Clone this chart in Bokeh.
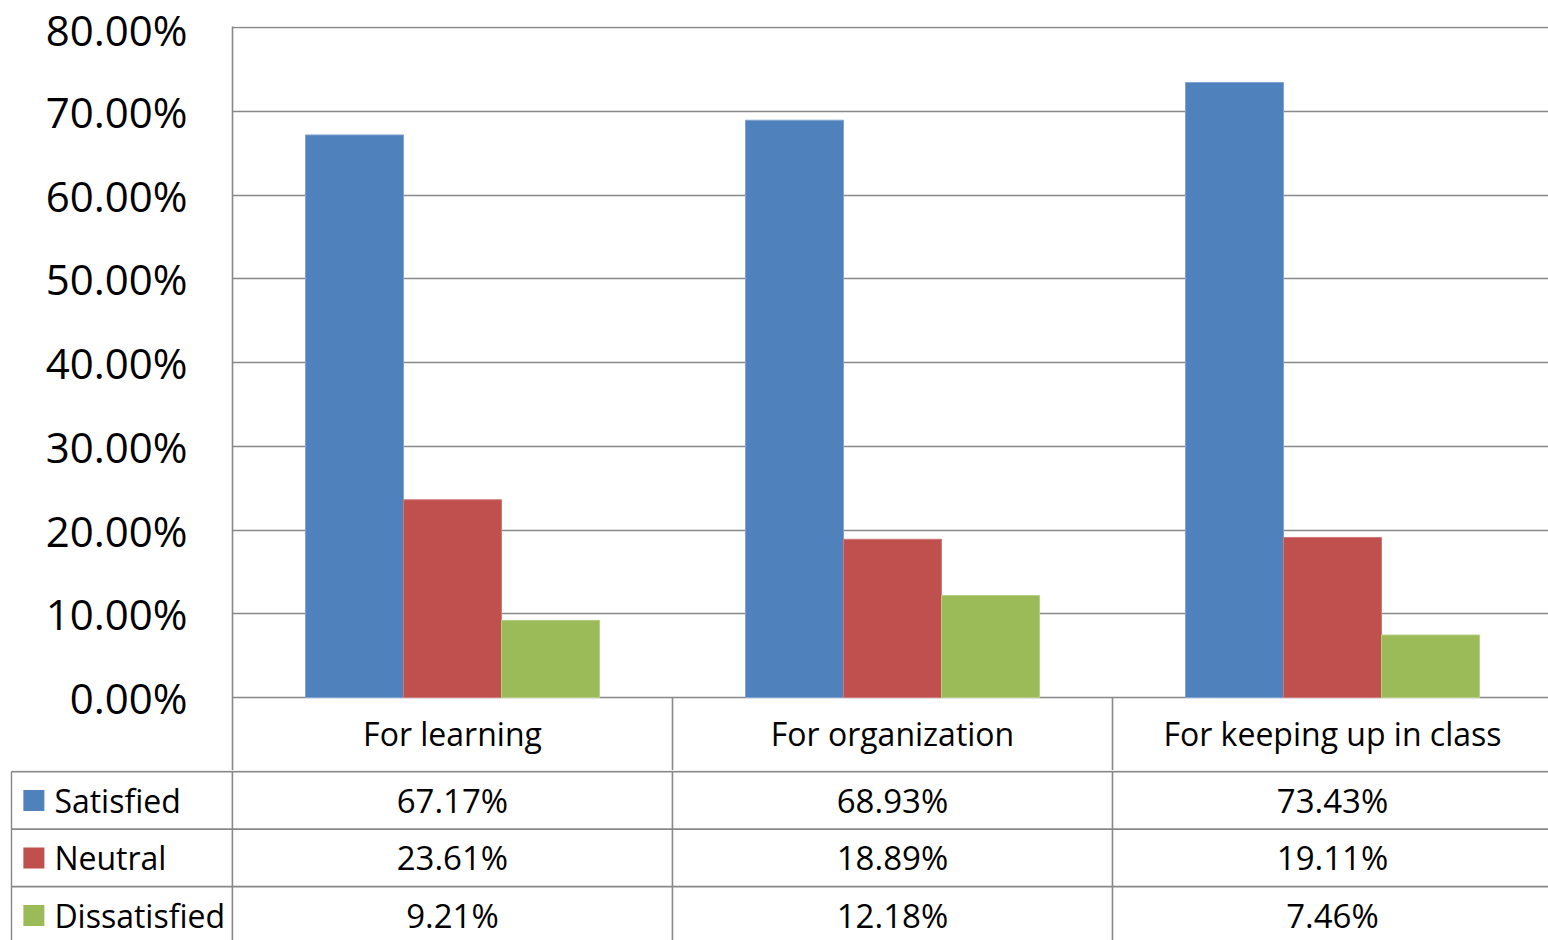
from bokeh.plotting import figure
from bokeh.models import Range1d, FixedTicker, PrintfTickFormatter, ColumnDataSource
from bokeh.layouts import column
from bokeh.embed import file_html
from bokeh.resources import INLINE
from bokeh.core.properties import value

# ---- data ----
categories = ["For learning", "For organization", "For keeping up in class"]
series = ["Satisfied", "Neutral", "Dissatisfied"]
satisfied = [67.17, 68.93, 73.43]
neutral = [23.61, 18.89, 19.11]
dissatisfied = [9.21, 12.18, 7.46]
y_ticks = [0, 10, 20, 30, 40, 50, 60, 70, 80]

colors = ["#4F81BD", "#C0504D", "#9BBB59"]
edge_colors = ["#7FA3D3", "#D07A78", "#B6CF85"]
GRID = "#888888"
FONT = "Open Sans"

values = [satisfied, neutral, dissatisfied]
n_cat = len(categories)

# ---- upper chart ----
PX_PER_CAT = 440.0
frame_w = 1316
x_end = frame_w / PX_PER_CAT
PX_PER_PCT = 670 / 80.0
up_frame_h = 770 - 26
y_top = 80 + 1 / PX_PER_PCT
y_bot = y_top - up_frame_h / PX_PER_PCT

p = figure(width=1548, height=770, output_backend="svg", toolbar_location=None,
           x_range=Range1d(0, x_end), y_range=Range1d(y_bot, y_top),
           x_axis_location=None, min_border_left=232, min_border_right=0,
           min_border_top=26, min_border_bottom=0)
p.frame_align = False
p.outline_line_color = None
p.xgrid.visible = False
p.yaxis.ticker = FixedTicker(ticks=y_ticks)
p.yaxis.formatter = PrintfTickFormatter(format="%.2f%%")
p.yaxis.major_tick_line_color = None
p.yaxis.minor_tick_line_color = None
p.yaxis.major_tick_out = 0
p.yaxis.major_tick_in = 0
p.yaxis.major_label_standoff = 45
p.yaxis.major_label_text_font = FONT
p.yaxis.major_label_text_font_size = "42px"
p.yaxis.major_label_text_color = "black"
p.yaxis.axis_line_color = GRID
p.yaxis.axis_line_width = 1.6
p.ygrid.grid_line_color = GRID
p.ygrid.grid_line_width = 1.6

bw = 98 / PX_PER_CAT
offsets = [-bw, 0, bw]
for s, vals, c, ec, off in zip(series, values, colors, edge_colors, offsets):
    src = ColumnDataSource(dict(x=[i + 0.5 + off for i in range(n_cat)], top=vals))
    p.vbar(x="x", top="top", bottom=0, width=bw, source=src,
           fill_color=c, line_color=ec, line_width=1)

# header row dividers and labels
p.segment(x0=[1, 2], y0=[0, 0], x1=[1, 2], y1=[y_bot - 5, y_bot - 5],
          line_color=GRID, line_width=1.6)
hdr_y = -(733 - 697) / PX_PER_PCT
p.text(x=[i + 0.5 for i in range(n_cat)], y=[hdr_y] * n_cat, text=categories,
       text_align="center", text_baseline="middle", text_font=value(FONT),
       text_font_size=value("32px"), text_color="black")

# ---- lower table ----
ROW_PX = 57.5
low_h = 170
left_x = -(232 - 11) / PX_PER_CAT
yt = -0.02
yb = yt + low_h / ROW_PX
q = figure(width=1548, height=low_h, output_backend="svg", toolbar_location=None,
           x_range=Range1d(left_x - 0.002, x_end), y_range=Range1d(yb, yt),
           x_axis_location=None, y_axis_location=None,
           min_border_left=10, min_border_right=0, min_border_top=0, min_border_bottom=0)
q.frame_align = False
q.outline_line_color = None
q.xgrid.visible = False
q.ygrid.visible = False

# horizontal row lines
q.segment(x0=[left_x] * 3, y0=[0, 1, 2], x1=[x_end + 1] * 3, y1=[0, 1, 2],
          line_color=GRID, line_width=1.6)
# vertical lines
q.segment(x0=[left_x, 0, 1, 2], y0=[0] * 4, x1=[left_x, 0, 1, 2], y1=[yb + 1] * 4,
          line_color=GRID, line_width=1.6)

# legend keys and names
q.scatter(x=[-(232 - 33.5) / PX_PER_CAT] * 3, y=[0.5, 1.5, 2.5], marker="square",
          size=21, fill_color=colors, line_color=None)
q.text(x=[-(232 - 54) / PX_PER_CAT] * 3, y=[0.5, 1.5, 2.5], text=series,
       text_align="left", text_baseline="middle", text_font=value(FONT),
       text_font_size=value("32px"), text_color="black")

# cell values
xs, ys, labels = [], [], []
for r, vals in enumerate(values):
    for i, v in enumerate(vals):
        xs.append(i + 0.5)
        ys.append(r + 0.5)
        labels.append(f"{v:.2f}%")
q.text(x=xs, y=ys, text=labels, text_align="center", text_baseline="middle",
       text_font=value(FONT), text_font_size=value("33px"), text_color="black")

layout = column(p, q, spacing=0)
open("out.html", "w").write(file_html(layout, INLINE))
